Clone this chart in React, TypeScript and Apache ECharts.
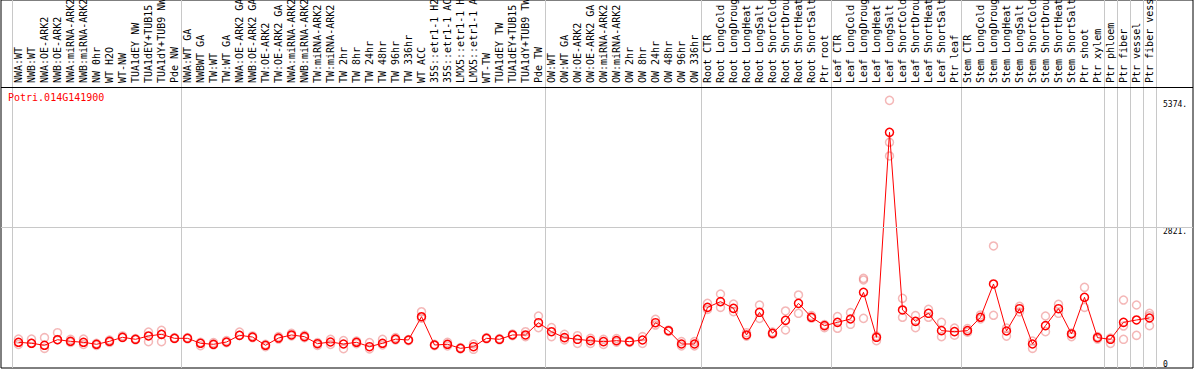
import React, { useEffect, useRef } from "react";
import * as echarts from "echarts";

const GENE_ID = "Potri.014G141900";

const categories = [
  "NWA:WT", "NWB:WT", "NWA:OE-ARK2", "NWB:OE-ARK2", "NWA:miRNA-ARK2", "NWB:miRNA-ARK2",
  "NW 0hr", "WT H2O", "WT-NW", "TUA1dEY NW", "TUA1dEY+TUB15 NW", "TUA1dY+TUB9 NW", "Pde NW",
  "NWA:WT GA", "NWBWT GA", "TW:WT", "TW:WT GA", "NWA:OE-ARK2 GA", "NWB:OE-ARK2 GA",
  "TW:OE-ARK2", "TW:OE-ARK2 GA", "NWA:miRNA-ARK2 GA", "NWB:miRNA-ARK2 GA", "TW:miRNA-ARK2",
  "TW:miRNA-ARK2 GA", "TW 2hr", "TW 8hr", "TW 24hr", "TW 48hr", "TW 96hr", "TW 336hr", "WT ACC",
  "35S::etr1-1 H2O", "35S::etr1-1 ACC", "LMX5::etr1-1 H2O", "LMX5::etr1-1 ACC", "WT-TW",
  "TUA1dEY TW", "TUA1dEY+TUB15 TW", "TUA1dY+TUB9 TW", "Pde TW",
  "OW:WT", "OW:WT GA", "OW:OE-ARK2", "OW:OE-ARK2 GA", "OW:miRNA-ARK2", "OW:miRNA-ARK2 GA",
  "OW 2hr", "OW 8hr", "OW 24hr", "OW 48hr", "OW 96hr", "OW 336hr",
  "Root CTR", "Root LongCold", "Root LongDrought", "Root LongHeat", "Root LongSalt",
  "Root ShortCold", "Root ShortDrought", "Root ShortHeat", "Root ShortSalt", "Ptr root",
  "Leaf CTR", "Leaf LongCold", "Leaf LongDrought", "Leaf LongHeat", "Leaf LongSalt",
  "Leaf ShortCold", "Leaf ShortDrought", "Leaf ShortHeat", "Leaf ShortSalt", "Ptr leaf",
  "Stem CTR", "Stem LongCold", "Stem LongDrought", "Stem LongHeat", "Stem LongSalt",
  "Stem ShortCold", "Stem ShortDrought", "Stem ShortHeat", "Stem ShortSalt", "Ptr shoot",
  "Ptr xylem", "Ptr phloem", "Ptr fiber", "Ptr vessel", "Ptr fiber vessel",
];

const meanValues = [
  516, 496, 456, 568, 536, 516, 476, 536, 616, 576, 643, 676, 596,
  596, 496, 476, 522, 656, 622, 456, 602, 663, 629, 488, 522, 482, 516, 428, 496, 580, 562, 1030,
  462, 476, 395, 428, 596, 576, 663, 663, 910,
  729, 609, 576, 549, 529, 549, 529, 562, 910, 749, 482, 482,
  1218, 1332, 1198, 663, 1118, 696, 957, 1298, 1018, 850,
  917, 984, 1519, 616, 4732, 1165, 937, 1098, 750, 730,
  750, 1018, 1687, 743, 1191, 482, 850, 1191, 683, 1419,
  609, 576, 917, 964, 1004,
];

const rep1 = [
  582, 582, 609, 709, 576, 582, 495, 562, 643, 590, 723, 756, 609,
  610, 515, 509, 549, 723, 643, 475, 629, 696, 656, 509, 576, 549, 542, 509, 576, 609, 570, 1130,
  475, 515, 410, 482, 610, 590, 680, 729, 1044,
  810, 676, 649, 596, 576, 590, 545, 629, 977, 760, 529, 529,
  1299, 1486, 1285, 709, 1265, 720, 1145, 1466, 1051, 870,
  1031, 1111, 1800, 640, 5374, 1399, 1051, 1178, 917, 800,
  790, 1065, 2450, 800, 1240, 542, 1044, 1279, 700, 1620,
  630, 600, 1365, 1265, 1098,
];

const rep2 = [
  475, 495, 395, 569, 515, 475, 455, 515, 609, 565, 529, 529, 590,
  585, 448, 462, 509, 656, 609, 428, 582, 643, 609, 455, 475, 388, 489, 382, 462, 562, 550, 1000,
  450, 442, 385, 375, 585, 565, 650, 629, 810,
  629, 562, 495, 495, 475, 520, 515, 495, 863, 735, 442, 442,
  1178, 1218, 1131, 640, 997, 680, 763, 1098, 1000, 810,
  797, 877, 997, 549, 4257, 1018, 810, 1018, 629, 660,
  720, 985, 1058, 640, 1125, 395, 730, 1098, 630, 1218,
  582, 495, 576, 656, 850,
];

const rep3 = [
  null, null, null, null, null, null, null, null, null, null, null, 676, null,
  null, null, null, null, null, null, null, null, null, null, null, null, null, null, null, null, null, null, null,
  null, null, null, null, null, null, null, null, null,
  null, null, null, null, null, null, null, null, null, null, null, null,
  null, null, null, null, null, null, null, null, null, null,
  null, null, 1767, null, 4532, null, null, null, null, null,
  null, null, null, null, null, null, null, null, null, null,
  null, null, 843, null, 1050,
];

// category indices where a new group starts (vertical separators)
const groupStarts = [0, 13, 41, 53, 63, 73, 84, 85, 86, 87, 88];
const yTickValues = [0, 2821, 5374];
const PLOT_MAX = 5642;

export default function App() {
  const ref = useRef<HTMLDivElement>(null);

  useEffect(() => {
    document.body.style.margin = "0";
    const chart = echarts.init(ref.current as HTMLDivElement, null, { renderer: "svg" });
    const bottomY = 368;
    const axisY = 87;
    const fullMax = (PLOT_MAX * bottomY) / (bottomY - axisY);
    const mono = "'DejaVu Sans Mono', monospace";

    const reps: [number, number][] = [];
    [rep1, rep2, rep3].forEach((arr) =>
      arr.forEach((v, i) => {
        if (v != null) reps.push([i, v as number]);
      })
    );

    chart.setOption({
      animation: false,
      title: {
        text: GENE_ID,
        left: 8,
        top: 92,
        padding: 0,
        textStyle: { color: "#ff0000", fontFamily: mono, fontSize: 10, fontWeight: "normal" },
      },
      grid: [
        {
          left: 1, right: 1, top: 0, bottom: 2, show: true, borderColor: "#000", borderWidth: 1,
          backgroundColor: "transparent", containLabel: false, outerBoundsMode: "none",
        },
        { left: 12, width: 1144, top: 0, bottom: 2, containLabel: false, outerBoundsMode: "none" },
      ],
      xAxis: [
        { gridIndex: 0, type: "value", min: 0, max: 1, show: false },
        {
          gridIndex: 1,
          type: "category",
          data: categories,
          position: "top",
          offset: -axisY,
          boundaryGap: true,
          axisLine: { show: false },
          axisTick: { show: false },
          axisLabel: { interval: 0, rotate: 90, margin: 4, fontFamily: mono, fontSize: 10, color: "#000", hideOverlap: false },
          splitLine: {
            show: true,
            interval: (i: number) => groupStarts.includes(i),
            lineStyle: { color: "#c8c8c8", width: 1 },
          },
        },
      ],
      yAxis: [
        {
          gridIndex: 0,
          type: "value",
          min: 0,
          max: fullMax,
          position: "right",
          axisLine: { show: false },
          axisTick: { show: false },
          splitLine: { show: false },
          axisLabel: {
            customValues: yTickValues,
            inside: true,
            margin: 30,
            align: "left",
            verticalAlign: "top",
            verticalAlignMinLabel: "bottom",
            formatter: (v: number) => (v === 0 ? "0" : v + "."),
            fontFamily: mono,
            fontSize: 8,
            color: "#000",
          },
        },
        { gridIndex: 1, type: "value", min: 0, max: fullMax, show: false },
      ],
      series: [
        {
          type: "line",
          xAxisIndex: 0,
          yAxisIndex: 0,
          data: [],
          silent: true,
          markLine: {
            symbol: "none",
            silent: true,
            label: { show: false },
            data: [
              { yAxis: yTickValues[1], lineStyle: { color: "#c8c8c8", type: "solid", width: 1 } },
              { yAxis: PLOT_MAX, lineStyle: { color: "#000", type: "solid", width: 1 } },
            ],
          },
        },
        {
          type: "scatter",
          xAxisIndex: 1,
          yAxisIndex: 1,
          data: reps,
          symbol: "circle",
          symbolSize: 8,
          silent: true,
          itemStyle: { color: "rgba(0,0,0,0)", borderColor: "rgba(230,90,90,0.55)", borderWidth: 1.5 },
        },
        {
          type: "line",
          xAxisIndex: 1,
          yAxisIndex: 1,
          data: meanValues,
          symbol: "circle",
          symbolSize: 8,
          silent: true,
          lineStyle: { color: "#ff0000", width: 1 },
          itemStyle: { color: "rgba(0,0,0,0)", borderColor: "#ff0000", borderWidth: 1.5 },
        },
      ],
    });

    return () => chart.dispose();
  }, []);

  return <div ref={ref} style={{ width: 1194, height: 370 }} />;
}
